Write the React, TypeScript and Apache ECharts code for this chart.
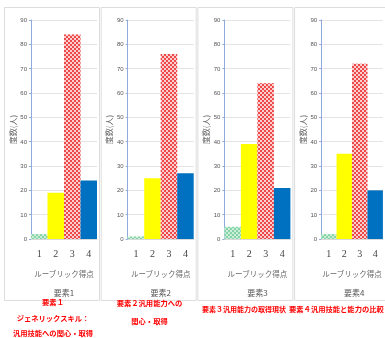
import React, { useEffect, useRef } from "react";
import * as echarts from "echarts";

const categories = ["1", "2", "3", "4"];
const element1 = [2, 19, 84, 24];
const element2 = [1, 25, 76, 27];
const element3 = [5, 39, 64, 21];
const element4 = [2, 35, 72, 20];
const panelData = [element1, element2, element3, element4];
const panelTitles = ["要素1", "要素2", "要素3", "要素4"];
const xAxisName = "ルーブリック得点";
const yAxisName = "度数(人)";
const captions = [
  ["要素１", "ジェネリックスキル：", "汎用技能への関心・取得"],
  ["要素２汎用能力への", "関心・取得"],
  ["要素３汎用能力の取得現状"],
  ["要素４汎用技能と能力の比較"],
];

const barColors = ["#C9EEDA", "#FFFF00", "#F9CFCF", "#0070C0"];
const decals: any[] = [
  { symbol: "rect", symbolSize: 1, dashArrayX: [[2, 2], [0, 2, 2, 0]], dashArrayY: [2, 0], rotation: 0, color: "#86D4A6" },
  null,
  { symbol: "rect", symbolSize: 1, dashArrayX: [[2, 2], [0, 2, 2, 0]], dashArrayY: [2, 0], rotation: 0, color: "#EE4848" },
  null,
];

export default function App() {
  const ref = useRef<HTMLDivElement>(null);
  useEffect(() => {
    document.body.style.margin = "0";
    const chart = echarts.init(ref.current!, null, { renderer: "svg" });
    const step = 96.7;
    const grids: any[] = [];
    const xAxes: any[] = [];
    const yAxes: any[] = [];
    const series: any[] = [];
    const graphics: any[] = [];
    panelData.forEach((vals, i) => {
      const left = 31 + step * i;
      grids.push({ left, top: 20, width: 66, height: 219 });
      xAxes.push({
        type: "category",
        gridIndex: i,
        data: categories,
        axisLine: { lineStyle: { color: "#D9D9D9" } },
        axisTick: { show: false },
        axisLabel: { margin: 9, fontSize: 10, color: "#444", fontFamily: "Liberation Serif" },
        name: xAxisName,
        nameLocation: "middle",
        nameGap: 31,
        nameTextStyle: { fontSize: 7.5, color: "#666", fontFamily: "Noto Sans CJK JP" },
      });
      yAxes.push({
        type: "value",
        gridIndex: i,
        min: 0,
        max: 90,
        interval: 10,
        axisLine: { show: true, lineStyle: { color: "#8FAADC" } },
        axisTick: { show: true, length: 2, lineStyle: { color: "#8FAADC" } },
        axisLabel: { margin: 4, fontSize: 6, color: "#555", fontFamily: "Liberation Sans Narrow, Liberation Sans" },
        splitLine: { lineStyle: { color: "#E4E4E4" } },
        name: yAxisName,
        nameLocation: "middle",
        nameGap: 15,
        nameTextStyle: { fontSize: 8, color: "#666", fontFamily: "Noto Sans CJK JP" },
      });
      series.push({
        type: "bar",
        xAxisIndex: i,
        yAxisIndex: i,
        barCategoryGap: 0,
        data: vals.map((v, j) => ({
          value: v,
          itemStyle: decals[j] ? { color: barColors[j], decal: decals[j] } : { color: barColors[j] },
        })),
      });
      graphics.push({
        type: "rect",
        shape: { x: 4.5 + step * i, y: 7.5, width: 95, height: 293 },
        style: { fill: "none", stroke: "#DDDDDD", lineWidth: 1 },
        z: 0,
      });
      graphics.push({
        type: "text",
        x: left + 33,
        y: 292,
        style: { text: panelTitles[i], fontSize: 8, fill: "#555", align: "center", verticalAlign: "middle", fontFamily: "Noto Sans CJK JP" },
      });
    });
    const capPos = [
      { x: 53, y: 302, align: "center", gap: 15.5, size: 7.3 },
      { x: 149.5, y: 303, align: "center", gap: 18, size: 7.3 },
      { x: 202, y: 309, align: "left", gap: 18, size: 7 },
      { x: 289, y: 309, align: "left", gap: 18, size: 7.3 },
    ];
    captions.forEach((lines, i) => {
      lines.forEach((t, k) => {
        graphics.push({
          type: "text",
          x: capPos[i].x,
          y: capPos[i].y + k * capPos[i].gap,
          style: {
            text: t,
            fontSize: capPos[i].size,
            fontWeight: "bold",
            fill: "#FF0000",
            align: capPos[i].align,
            verticalAlign: "middle",
            fontFamily: "Noto Sans CJK JP",
          },
        });
      });
    });
    chart.setOption({
      animation: false,
      aria: { enabled: true, decal: { show: false } },
      grid: grids,
      xAxis: xAxes,
      yAxis: yAxes,
      series,
      graphic: graphics,
    });
    return () => chart.dispose();
  }, []);
  return <div ref={ref} style={{ position: "fixed", left: 0, top: 0, width: 385, height: 338 }} />;
}
